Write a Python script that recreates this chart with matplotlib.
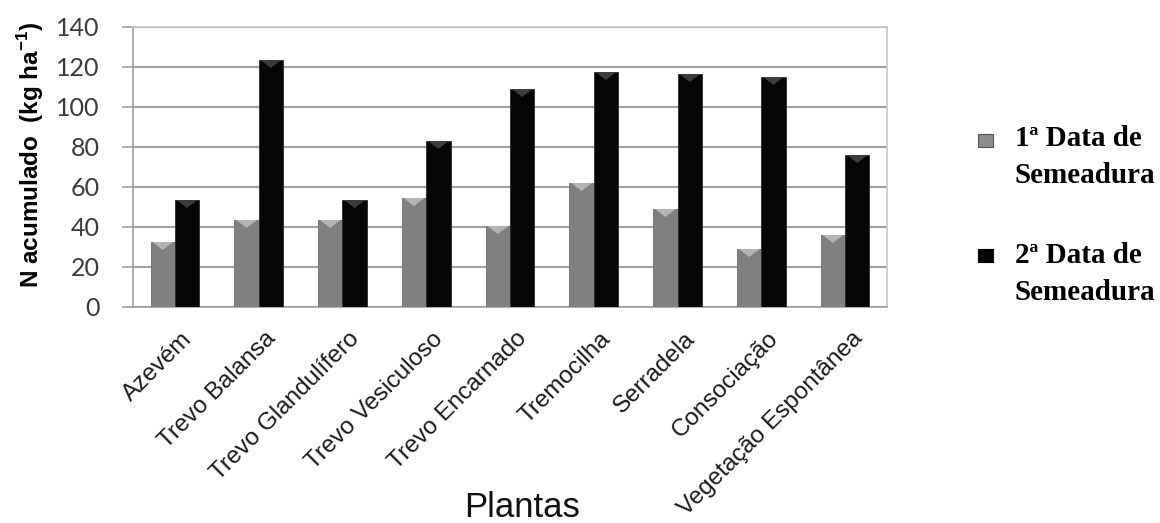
import numpy as np
import matplotlib.pyplot as plt
import matplotlib.transforms as mtransforms
from matplotlib.patches import Polygon, Rectangle

# Data
plantas = ['Azevém', 'Trevo Balansa', 'Trevo Glandulífero', 'Trevo Vesiculoso',
           'Trevo Encarnado', 'Tremocilha', 'Serradela', 'Consociação',
           'Vegetação Espontânea']
data1 = [32.5, 43.5, 43.5, 54.5, 40.5, 62, 49, 29, 36]
data2 = [53.5, 123.5, 53.5, 83, 109, 117.5, 116.5, 115, 76]
series = ['1ª Data de\nSemeadura', '2ª Data de\nSemeadura']
colors = ['#808080', '#050505']
bevel = ['#b4b4b4', '#3c3c3c']

plt.rcParams['font.family'] = ['Liberation Sans', 'DejaVu Sans']

W, H = 1160, 523
fig = plt.figure(figsize=(W / 100, H / 100), dpi=100)
# plot area: x 133..887 px, y 27..307 px (from top)
ax = fig.add_axes([133 / W, 1 - 307 / H, 754 / W, 280 / H])

x = np.arange(len(plantas))
w = 0.29
for i, vals in enumerate([data1, data2]):
    off = (i - 0.5) * w
    bc = ax.bar(x + off, vals, w, color=colors[i], edgecolor='#2a2a2a' if i else '#6e6e6e',
                linewidth=0.6, zorder=3)
    # small bevel triangle at the top of each bar
    for r in bc:
        x0, x1 = r.get_x(), r.get_x() + r.get_width()
        top = r.get_height()
        tri = Polygon([[x0 + 0.02, top], [x1 - 0.02, top], [(x0 + x1) / 2, top - 4]],
                      closed=True, facecolor=bevel[i], edgecolor='none', zorder=4)
        ax.add_patch(tri)

ax.set_xlim(-0.5, len(plantas) - 0.5)
ax.set_ylim(0, 140)
ax.set_yticks(range(0, 141, 20))
ax.yaxis.grid(True, color='#a0a0a0', linewidth=1.5, zorder=0)
for s in ax.spines.values():
    s.set_color('#c4c4c4')
    s.set_linewidth(1.2)
ax.spines['left'].set_color('#a0a0a0')
ax.spines['bottom'].set_color('#a0a0a0')
ax.tick_params(axis='y', length=8, width=1.2, color='#a0a0a0', pad=16)
ax.tick_params(axis='x', length=0, pad=15)
for lab in ax.get_yticklabels():
    lab.set_fontfamily(['Lato', 'DejaVu Sans'])
    lab.set_fontsize(18)
    lab.set_color('#3a3a3a')

ax.set_xticks(x)
ax.set_xticklabels(plantas, rotation=45, ha='right', va='top', rotation_mode='anchor',
                   fontsize=17.5, color='#1a1a1a')
shift = mtransforms.ScaledTranslation(6 / 100, 0, fig.dpi_scale_trans)
for lab in ax.get_xticklabels():
    lab.set_transform(lab.get_transform() + shift)

ax.set_ylabel('N acumulado  (kg ha$^{\\mathregular{-1}}$)', fontsize=17.5, fontweight='bold')
ax.yaxis.set_label_coords(-0.116, 0.543)

fig.text(522 / W, 1 - 517 / H, 'Plantas', fontsize=25, ha='center', va='baseline',
         color='#111111')

# legend drawn by hand: marker next to first line of each two-line label
leg_marker_y = [140, 255]
leg_base_y = [146, 263]
for i, lab in enumerate(series):
    fig.add_artist(Rectangle((978 / W, 1 - (leg_marker_y[i] + 6.5) / H), 15 / W, 13 / H,
                             transform=fig.transFigure, facecolor=colors[i] if i else '#8c8c8c',
                             edgecolor='#555555' if i == 0 else '#000000', linewidth=0.8))
    for j, line in enumerate(lab.split('\n')):
        fig.text(1015 / W, 1 - (leg_base_y[i] + 37 * j) / H, line,
                 fontfamily='Liberation Serif', fontweight='bold', fontsize=21,
                 ha='left', va='baseline', color='#000000')

fig.savefig('out.png', dpi=100)
